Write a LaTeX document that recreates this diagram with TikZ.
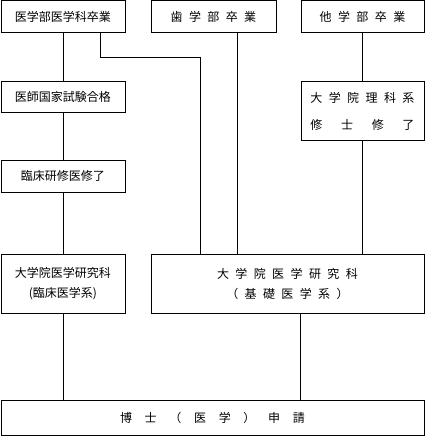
\documentclass[tikz,border=0pt]{standalone}
\usepackage{fontspec}
\setmainfont{Noto Sans CJK JP}
\newcommand\gapA{\hspace{6.4pt}}
\newcommand\gapB{\hspace{18.7pt}}
\newcommand\gapC{\hspace{12.7pt}}
\begin{document}
\begin{tikzpicture}[x=1pt,y=-1pt,
  box/.style={draw,line width=0.9pt,rectangle,anchor=north west,inner sep=0pt,
    align=center,font=\fontsize{12}{20}\selectfont},
  conn/.style={line width=0.9pt}]
\useasboundingbox (0,0) rectangle (425,436);
\node[box,minimum width=124,minimum height=31.5] (b1) at (0.5,0.5) {医学部医学科卒業};
\node[box,minimum width=125,minimum height=31.5] (b2) at (150.5,0.5) {歯\gapA 学\gapA 部\gapA 卒\gapA 業};
\node[box,minimum width=123,minimum height=31.5] (b3) at (300.5,0.5) {他\gapA 学\gapA 部\gapA 卒\gapA 業};
\node[box,minimum width=124,minimum height=31] (kokushi) at (0.5,81) {医師国家試験合格};
\node[box,minimum width=123,minimum height=59,font=\fontsize{12}{27}\selectfont] (rika) at (300.5,81) {大\gapA 学\gapA 院\gapA 理\gapA 科\gapA 系\\修\gapB 士\gapB 修\gapB 了};
\node[box,minimum width=124,minimum height=32] (kenshu) at (0.5,160) {臨床研修医修了};
\node[box,minimum width=273,minimum height=59] (kiso) at (150.5,254) {大\gapA 学\gapA 院\gapA 医\gapA 学\gapA 研\gapA 究\gapA 科\\（\gapA 基\gapA 礎\gapA 医\gapA 学\gapA 系\gapA ）};
\node[box,minimum width=124,minimum height=59] (rinsho) at (0.5,254) {大学院医学研究科\\(臨床医学系)};
\node[box,minimum width=423,minimum height=34.5] (final) at (0.5,400) {博\gapC 士\gapC （\gapC 医\gapC 学\gapC ）\gapC 申\gapC 請};
\coordinate (k1) at (100,57);
\coordinate (k2) at (200,57);
\coordinate (d1) at (237,0);
\coordinate (f1) at (300,0);
\draw[conn] (b1) -- (kokushi);
\draw[conn] (kokushi) -- (kenshu);
\draw[conn] (kenshu) -- (rinsho);
\draw[conn] (rinsho) -- (rinsho |- final.north);
\draw[conn] (b1.south -| k1) -- (k1) -- (k2) -- (kiso.north -| k2);
\draw[conn] (b2.south -| d1) -- (kiso.north -| d1);
\draw[conn] (b3) -- (rika);
\draw[conn] (rika) -- (rika.south |- kiso.north);
\draw[conn] (kiso.south -| f1) -- (final.north -| f1);
\end{tikzpicture}
\end{document}
